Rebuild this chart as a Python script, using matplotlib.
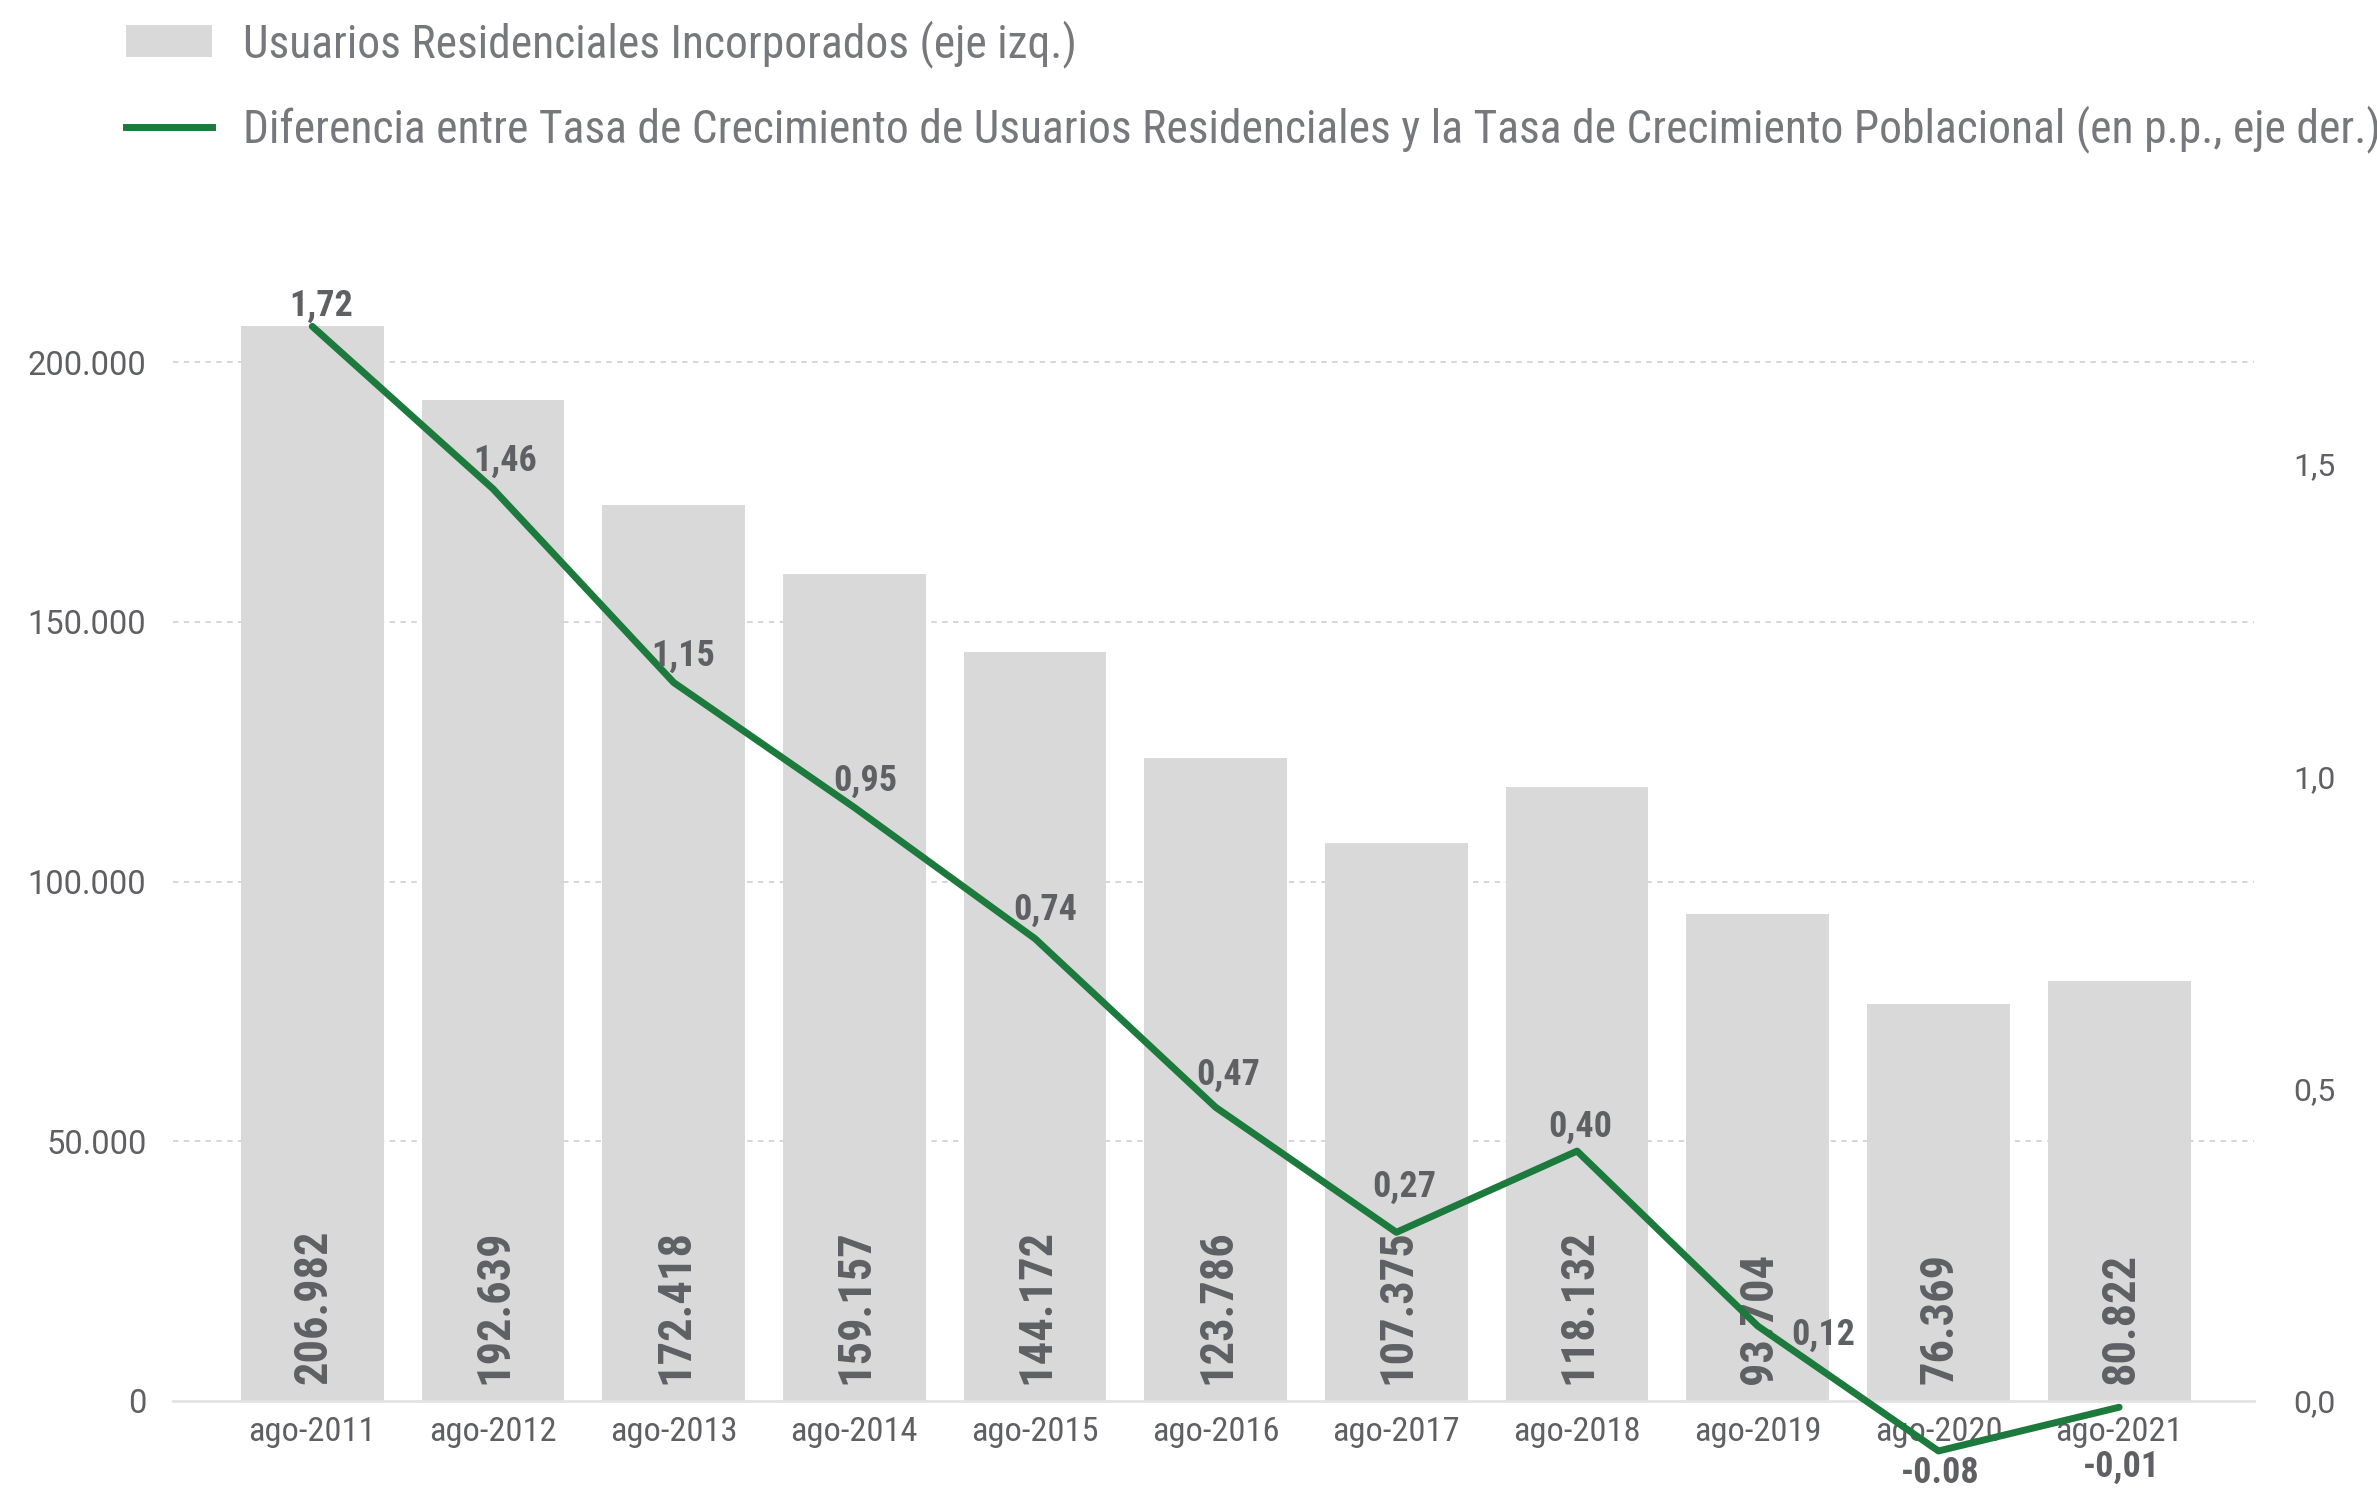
import matplotlib
matplotlib.use("Agg")
import matplotlib.pyplot as plt
from matplotlib import font_manager as fm
from matplotlib.patches import Patch
from matplotlib.lines import Line2D
from matplotlib.ticker import FuncFormatter

_names = {f.name for f in fm.fontManager.ttflist}
COND = next((n for n in ['Roboto Condensed', 'Liberation Sans Narrow', 'IBM Plex Sans Condensed', 'Roboto']
             if n in _names), 'DejaVu Sans')
REG = 'Roboto' if 'Roboto' in _names else 'DejaVu Sans'
plt.rcParams['font.family'] = [COND, 'DejaVu Sans']

# ---- data ----
categories = ["ago-2011", "ago-2012", "ago-2013", "ago-2014", "ago-2015", "ago-2016",
              "ago-2017", "ago-2018", "ago-2019", "ago-2020", "ago-2021"]
usuarios = [206982, 192639, 172418, 159157, 144172, 123786, 107375, 118132, 93704, 76369, 80822]
diferencia = [1.72, 1.46, 1.15, 0.95, 0.74, 0.47, 0.27, 0.40, 0.12, -0.08, -0.01]
diferencia_labels = ["1,72", "1,46", "1,15", "0,95", "0,74", "0,47", "0,27", "0,40", "0,12", "-0.08", "-0,01"]
left_ticks = [0, 50000, 100000, 150000, 200000]
right_ticks = [0.0, 0.5, 1.0, 1.5]
legend_labels = ["Usuarios Residenciales Incorporados (eje izq.)",
                 "Diferencia entre Tasa de Crecimiento de Usuarios Residenciales y la Tasa de Crecimiento Poblacional (en p.p., eje der.)"]

# ---- style ----
BAR = '#d9d9d9'
GREEN = '#1b7a3c'
TXT = '#5f6063'
LEG = '#76787b'

fig = plt.figure(figsize=(23.77, 14.88), dpi=100)
ax = fig.add_axes([0.0727, 0.05847, 0.9483 - 0.0727, 0.8165 - 0.05847])
x = list(range(len(categories)))
ax.bar(x, usuarios, width=0.79, color=BAR, zorder=2)
ax.set_xlim(-0.772, 10.747)
ax.set_ylim(0, 217174)
ax.set_yticks(left_ticks)
ax.yaxis.set_major_formatter(FuncFormatter(lambda v, p: f"{int(v):,}".replace(",", ".")))
ax.set_xticks(x)
ax.set_xticklabels(categories)
ax.tick_params(axis='x', length=0, pad=11, labelsize=24.8, labelcolor=TXT)
ax.tick_params(axis='y', length=0, pad=19, labelsize=23.5, labelcolor=TXT)
for t in ax.get_yticklabels():
    t.set_family([REG, 'DejaVu Sans'])
for s in ['top', 'right', 'left']:
    ax.spines[s].set_visible(False)
ax.spines['bottom'].set_color('#e3e3e3')
ax.spines['bottom'].set_linewidth(2)
ax.set_axisbelow(True)
ax.grid(axis='y', color='#d3d3d3', linestyle=(0, (3, 3)), linewidth=1.3)
ax.yaxis.get_gridlines()[0].set_visible(False)

for xi, v in zip(x, usuarios):
    ax.annotate(f"{v:,}".replace(",", "."), (xi, 0), xytext=(1, 12), textcoords='offset points',
                rotation=90, ha='center', va='bottom', fontsize=33.5, fontweight='bold', color=TXT, zorder=3)

ax2 = ax.twinx()
ax2.set_ylim(0, 1.8054)
ax2.set_yticks(right_ticks)
ax2.yaxis.set_major_formatter(FuncFormatter(lambda v, p: f"{v:.1f}".replace(".", ",")))
ax2.tick_params(axis='y', length=0, pad=28, labelsize=23, labelcolor=TXT)
for t in ax2.get_yticklabels():
    t.set_family([REG, 'DejaVu Sans'])
for s in ['top', 'right', 'left', 'bottom']:
    ax2.spines[s].set_visible(False)
ax2.plot(x, diferencia, color=GREEN, linewidth=5, solid_capstyle='round', clip_on=False, zorder=5)

offsets = [(6.5, 15), (8.7, 20), (6.5, 19.5), (7.6, 19), (7.6, 20.5), (8.7, 23.5),
           (5.5, 33), (2.2, 17.5), (47, -6), (1, -16), (2, -43)]
for xi, v, lab, off in zip(x, diferencia, diferencia_labels, offsets):
    ax2.annotate(lab, (xi, v), xytext=off, textcoords='offset points', ha='center', va='center',
                 fontsize=26, fontweight='bold', color=TXT, annotation_clip=False, zorder=6)

handles = [Patch(facecolor=BAR, edgecolor='none'), Line2D([0], [0], color=GREEN, linewidth=5)]
leg = fig.legend(handles, legend_labels, loc='upper left', bbox_to_anchor=(126 / 2377, 1 - 20 / 1488),
                 frameon=False, fontsize=32.8, handlelength=1.89, handletextpad=0.68, labelspacing=0.82,
                 borderpad=0, borderaxespad=0)
for t in leg.get_texts():
    t.set_color(LEG)

fig.savefig('out.png', dpi=100)
